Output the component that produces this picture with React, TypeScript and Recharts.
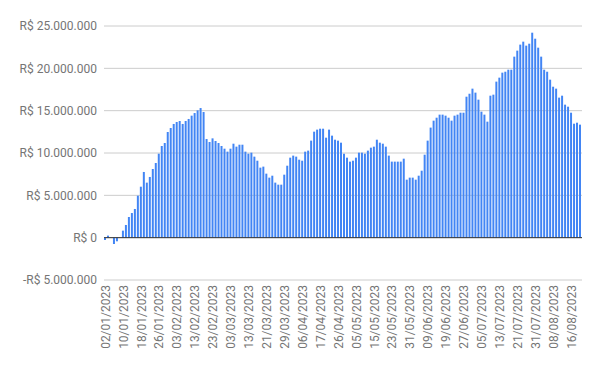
import { BarChart, Bar, XAxis, YAxis, CartesianGrid, ReferenceLine } from 'recharts'

// trading days (B3 calendar), Jan-Aug 2023
const dates = [
    '02/01/2023', '03/01/2023', '04/01/2023', '05/01/2023', '06/01/2023', '09/01/2023', '10/01/2023', '11/01/2023',
    '12/01/2023', '13/01/2023', '16/01/2023', '17/01/2023', '18/01/2023', '19/01/2023', '20/01/2023', '23/01/2023',
    '24/01/2023', '25/01/2023', '26/01/2023', '27/01/2023', '30/01/2023', '31/01/2023',
    '01/02/2023', '02/02/2023', '03/02/2023', '06/02/2023', '07/02/2023', '08/02/2023', '09/02/2023', '10/02/2023',
    '13/02/2023', '14/02/2023', '15/02/2023', '16/02/2023', '17/02/2023', '22/02/2023', '23/02/2023', '24/02/2023',
    '27/02/2023', '28/02/2023',
    '01/03/2023', '02/03/2023', '03/03/2023', '06/03/2023', '07/03/2023', '08/03/2023', '09/03/2023', '10/03/2023',
    '13/03/2023', '14/03/2023', '15/03/2023', '16/03/2023', '17/03/2023', '20/03/2023', '21/03/2023', '22/03/2023',
    '23/03/2023', '24/03/2023', '27/03/2023', '28/03/2023', '29/03/2023', '30/03/2023', '31/03/2023',
    '03/04/2023', '04/04/2023', '05/04/2023', '06/04/2023', '10/04/2023', '11/04/2023', '12/04/2023', '13/04/2023',
    '14/04/2023', '17/04/2023', '18/04/2023', '19/04/2023', '20/04/2023', '24/04/2023', '25/04/2023', '26/04/2023',
    '27/04/2023', '28/04/2023',
    '02/05/2023', '03/05/2023', '04/05/2023', '05/05/2023', '08/05/2023', '09/05/2023', '10/05/2023', '11/05/2023',
    '12/05/2023', '15/05/2023', '16/05/2023', '17/05/2023', '18/05/2023', '19/05/2023', '22/05/2023', '23/05/2023',
    '24/05/2023', '25/05/2023', '26/05/2023', '29/05/2023', '30/05/2023', '31/05/2023',
    '01/06/2023', '02/06/2023', '05/06/2023', '06/06/2023', '07/06/2023', '09/06/2023', '12/06/2023', '13/06/2023',
    '14/06/2023', '15/06/2023', '16/06/2023', '19/06/2023', '20/06/2023', '21/06/2023', '22/06/2023', '23/06/2023',
    '26/06/2023', '27/06/2023', '28/06/2023', '29/06/2023', '30/06/2023',
    '03/07/2023', '04/07/2023', '05/07/2023', '06/07/2023', '07/07/2023', '10/07/2023', '11/07/2023', '12/07/2023',
    '13/07/2023', '14/07/2023', '17/07/2023', '18/07/2023', '19/07/2023', '20/07/2023', '21/07/2023', '24/07/2023',
    '25/07/2023', '26/07/2023', '27/07/2023', '28/07/2023', '31/07/2023',
    '01/08/2023', '02/08/2023', '03/08/2023', '04/08/2023', '07/08/2023', '08/08/2023', '09/08/2023', '10/08/2023',
    '11/08/2023', '14/08/2023', '15/08/2023', '16/08/2023', '17/08/2023', '18/08/2023', '21/08/2023',
]

// balance in millions of R$
const balance = [
    -0.28, 0.24, 0, -0.75, -0.43, 0, 0.83, 1.5, 2.44, 2.91, 3.39, 4.96, 6.02, 7.76, 6.5, 7.17,
    8.11, 8.82, 9.92, 10.83, 11.18, 12.48, 12.95, 13.43, 13.66, 13.78, 13.43, 13.78, 14.02, 14.41, 14.72, 15.04,
    15.31, 14.84, 11.65, 11.3, 11.73, 11.42, 11.18, 10.83, 10.51, 10.16, 10.51, 11.1, 10.75, 10.98, 10.98, 10.16,
    9.92, 10.04, 9.57, 9.09, 8.27, 8.39, 7.56, 7.09, 7.32, 6.5, 6.26, 6.26, 7.44, 8.5, 9.45, 9.69,
    9.57, 9.21, 9.09, 10.16, 10.28, 11.46, 12.52, 12.76, 12.87, 12.87, 11.81, 12.76, 12.05, 11.57, 11.46, 11.22,
    9.92, 9.45, 8.98, 9.09, 9.45, 10.04, 10.04, 9.92, 10.28, 10.63, 10.75, 11.57, 11.22, 11.1, 10.75, 9.69,
    8.98, 8.98, 8.98, 8.98, 9.33, 6.85, 7.09, 7.09, 6.85, 7.32, 7.91, 9.8, 11.46, 13.0, 13.82, 14.17,
    14.53, 14.53, 14.41, 14.17, 13.82, 14.41, 14.53, 14.76, 14.76, 16.65, 17.0, 17.6, 17.13, 16.3, 14.88, 14.53,
    13.7, 16.77, 16.89, 18.43, 18.9, 19.49, 19.6, 19.84, 19.84, 21.38, 22.09, 22.8, 23.15, 22.68, 22.91, 24.21,
    23.5, 22.44, 21.38, 19.84, 19.6, 18.66, 17.83, 17.6, 16.54, 16.77, 15.71, 15.47, 14.76, 13.46, 13.58, 13.35,
]

const yTicks = [-5, 0, 5, 10, 15, 20, 25]

const data = dates.map((d, i) => ({ date: d, value: balance[i] }))

const formatBRL = (v: number): string => {
    const abs = Math.round(Math.abs(v) * 1000000)
    const s = String(abs).replace(/\B(?=(\d{3})+(?!\d))/g, '.')
    return (v < 0 ? '-R$ ' : 'R$ ') + s
}

const textColor = '#757575'
const font = 'Roboto, Arial, sans-serif'

function DateTick({ x, y, payload }: any): JSX.Element {
    return (
        <text
            x={x}
            y={y}
            transform={`rotate(-90 ${x} ${y})`}
            textAnchor="end"
            dy="0.35em"
            fill={textColor}
            fontSize={12}
            fontFamily={font}
        >
            {payload.value}
        </text>
    )
}

export default function App(): JSX.Element {
    return (
        <div style={{ position: 'absolute', left: 0, top: 0, width: 600, height: 371, background: '#fff' }}>
            <BarChart width={600} height={371} data={data} margin={{ top: 26, right: 18, left: 0, bottom: 0 }}>
                <CartesianGrid vertical={false} stroke="#cccccc" />
                <XAxis
                    dataKey="date"
                    interval={5}
                    axisLine={false}
                    tickLine={false}
                    tickSize={0}
                    tickMargin={5}
                    height={91}
                    tick={<DateTick />}
                />
                <YAxis
                    width={104}
                    domain={[-5, 25]}
                    ticks={yTicks}
                    axisLine={false}
                    tickLine={false}
                    tickSize={0}
                    tickMargin={7}
                    tickFormatter={formatBRL}
                    tick={{ fill: textColor, fontSize: 12, fontFamily: font }}
                />
                <ReferenceLine y={0} stroke="#333333" strokeWidth={1} />
                <Bar dataKey="value" fill="#4285f4" barSize={2} isAnimationActive={false} />
            </BarChart>
        </div>
    )
}
